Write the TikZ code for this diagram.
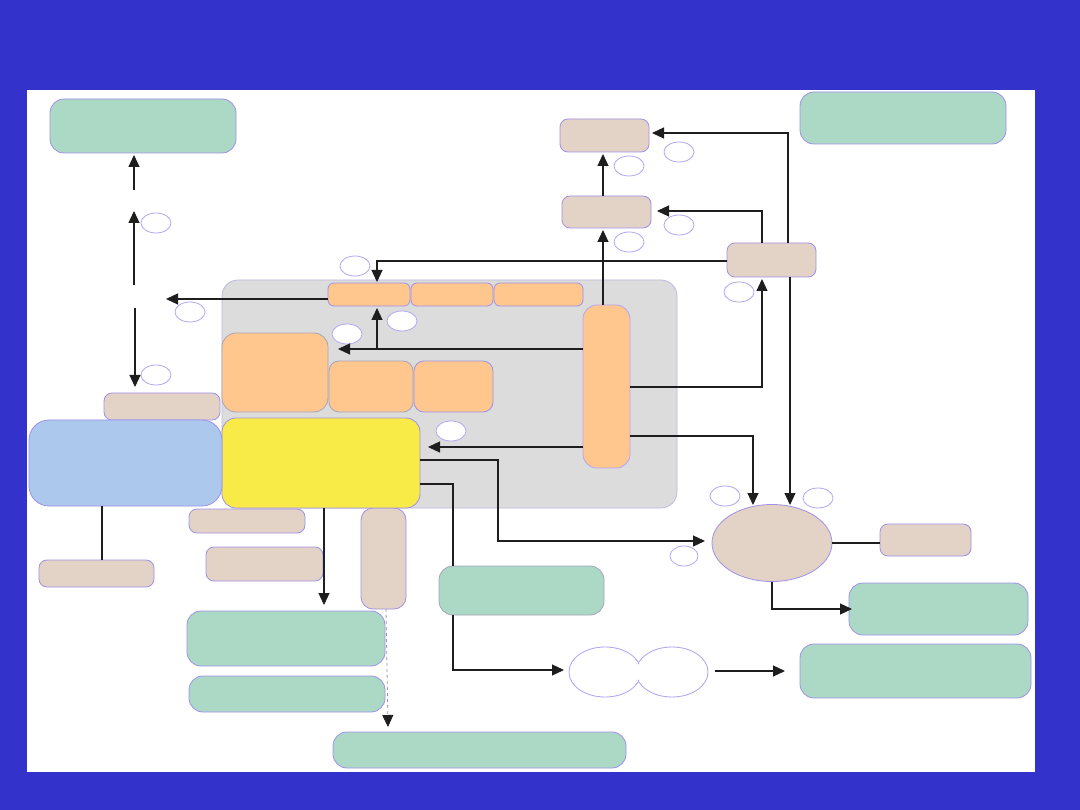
\documentclass[tikz,border=0pt]{standalone}
\usetikzlibrary{shapes.geometric,arrows.meta}
\definecolor{bgblue}{RGB}{51,51,204}
\definecolor{grn}{RGB}{171,217,198}
\definecolor{tanc}{RGB}{227,210,198}
\definecolor{org}{RGB}{255,198,142}
\definecolor{pnl}{RGB}{220,220,220}
\definecolor{ylw}{RGB}{249,235,71}
\definecolor{lblue}{RGB}{172,200,237}
\definecolor{lav}{RGB}{158,145,232}
\definecolor{lav2}{RGB}{180,165,245}
\definecolor{gbord}{RGB}{165,165,185}
\definecolor{arrc}{RGB}{30,30,30}
\newcommand\bx[6]{\node[#2, minimum width={#5-#3}, minimum height={#6-#4}] (#1) at ({(#3+#5)/2},{(#4+#6)/2}) {};}
\begin{document}
\begin{tikzpicture}[x=1pt,y=-1pt,
  base/.style={rectangle, draw=lav, line width=0.8pt, inner sep=0pt, outer sep=0pt, rounded corners=10pt},
  greenbox/.style={base, fill=grn, rounded corners=14pt},
  tanbox/.style={base, fill=tanc, rounded corners=8pt},
  orangebox/.style={base, fill=org, draw=gbord, rounded corners=10pt},
  panel/.style={base, fill=pnl, draw=pnl!85!blue, rounded corners=16pt},
  yellowbox/.style={base, fill=ylw, rounded corners=14pt},
  bluebox/.style={base, fill=lblue, rounded corners=20pt},
  tag/.style={ellipse, draw=lav2, fill=white, line width=0.8pt, minimum width=30pt, minimum height=20pt, inner sep=0pt},
  bigell/.style={ellipse, draw=lav, fill=tanc, line width=0.8pt, inner sep=0pt, minimum width=120pt, minimum height=77pt},
  conn/.style={line width=1.2pt, draw=arrc},
  arr/.style={conn, -{Triangle[length=12pt,width=11pt]}},
  dasharr/.style={line width=0.8pt, draw=black!40, dashed, -{Triangle[length=12pt,width=11pt,color=arrc,fill=arrc]}}
]
\fill[bgblue] (0,0) rectangle (1080,810);
\useasboundingbox (0,0) rectangle (1080,810);
\fill[white] (27,90) rectangle (1035,772);

% panel
\bx{pan}{panel}{222}{280}{677}{508}

% green boxes
\bx{g1}{greenbox}{50}{99}{236}{153}
\bx{g2}{greenbox}{800}{92}{1006}{144}
\bx{g3}{greenbox}{849}{583}{1028}{635}
\bx{g4}{greenbox}{800}{644}{1031}{698}
\bx{g5}{greenbox, draw=gbord}{439}{566}{604}{615}
\bx{g6}{greenbox}{187}{611}{385}{666}
\bx{g7}{greenbox}{189}{676}{385}{712}
\bx{g8}{greenbox}{333}{732}{626}{768}

% tan boxes
\bx{t1}{tanbox}{560}{119}{649}{152}
\bx{t2}{tanbox}{562}{196}{651}{228}
\bx{t3}{tanbox}{727}{243}{816}{277}
\bx{t4}{tanbox}{104}{393}{220}{420}
\bx{t5}{tanbox}{189}{509}{305}{533}
\bx{t6}{tanbox}{206}{547}{323}{581}
\bx{t7}{tanbox}{39}{560}{154}{587}
\bx{t8}{tanbox}{880}{524}{971}{556}
\bx{t9}{tanbox, rounded corners=12pt}{361}{508}{406}{609}

% orange boxes
\bx{o1}{orangebox, draw=lav, rounded corners=6pt}{328}{283}{410}{306}
\bx{o2}{orangebox, draw=lav, rounded corners=6pt}{411}{283}{493}{306}
\bx{o3}{orangebox, draw=lav, rounded corners=6pt}{494}{283}{583}{306}
\bx{o4}{orangebox, rounded corners=14pt}{222}{333}{328}{412}
\bx{o5}{orangebox}{329}{361}{413}{412}
\bx{o6}{orangebox, draw=lav}{414}{361}{493}{412}
\bx{o7}{orangebox, draw=lav2, rounded corners=14pt}{583}{305}{630}{468}

% yellow and blue
\bx{y1}{yellowbox}{222}{418}{420}{508}
\bx{b1}{bluebox}{29}{420}{222}{506}

% big tan ellipse
\node[bigell] (e1) at (772,543) {};

% double circle
\draw[lav2, line width=0.9pt] (605,672) ellipse (36 and 25);
\draw[lav2, line width=0.9pt] (672,672) ellipse (36 and 25);
\fill[white] (605,672) ellipse (35.2 and 24.2);
\fill[white] (672,672) ellipse (35.2 and 24.2);
\coordinate (dcl) at (569,670);
\coordinate (dcr) at (715,671);

% small tags
\node[tag] (s1) at (156,223) {};
\node[tag] (s2) at (190,312) {};
\node[tag] (s3) at (156,375) {};
\node[tag] (s4) at (355,266) {};
\node[tag] (s5) at (402,321) {};
\node[tag] (s6) at (347,334) {};
\node[tag] (s7) at (451,431) {};
\node[tag] (s8) at (629,166) {};
\node[tag] (s9) at (679,152) {};
\node[tag] (s10) at (629,242) {};
\node[tag] (s11) at (679,225) {};
\node[tag] (s12) at (739,292) {};
\node[tag] (s13) at (725,496) {};
\node[tag] (s14) at (818,498) {};
\node[tag, minimum width=28pt] (s15) at (684,556) {};

% free ends in left column
\coordinate (m1) at (134,190);
\coordinate (m1t) at (134,155);
\coordinate (m2) at (134,285);
\coordinate (m2t) at (134,211);
\coordinate (m3) at (135,308);
\coordinate (m3t) at (135,387);
\coordinate (m4t) at (166,299);

% connectors
\draw[arr] (m1) -- (m1t);
\draw[arr] (m2) -- (m2t);
\draw[arr] (m3) -- (m3t);
\draw[arr] (o1.west |- 0,299) -- (m4t);
\draw[arr] (t3.west |- 0,261) -| (377,282);
\draw[arr] (o7.west |- 0,349) -- (338,349);
\draw[arr] (377,349) -- (377,308);
\draw[arr] (o7.north -| 603,0) -- (603,230);
\draw[arr] (t2.north -| 603,0) -- (603,154);
\draw[arr] (t3.north -| 788,0) |- (652,133);
\draw[arr] (t3.north -| 762,0) |- (657,211);
\draw[arr] (o7.east |- 0,387) -| (762,279);
\draw[arr] (t3.south -| 790,0) -- (790,505);
\draw[arr] (o7.east |- 0,436) -| (753,505);
\draw[arr] (o7.west |- 0,447) -- (428,447);
\draw[arr] (y1.east |- 0,460) -| (498,541) -- (705,541);
\draw[conn] (y1.east |- 0,484) -| (g5.north -| 453,0);
\draw[arr] (g5.south -| 453,0) |- (564,670);
\draw[arr] (dcr) -- (785,671);
\draw[arr] (e1.south) |- (852,609);
\draw[conn] (e1.east) -- (t8.west |- e1.east);
\draw[conn] (b1.south -| 102,0) -- (t7.north -| 102,0);
\draw[arr] (y1.south -| 324,0) -- (324,605);
\draw[dasharr] (t9.south -| 386,0) -- (388,727);
\end{tikzpicture}
\end{document}
